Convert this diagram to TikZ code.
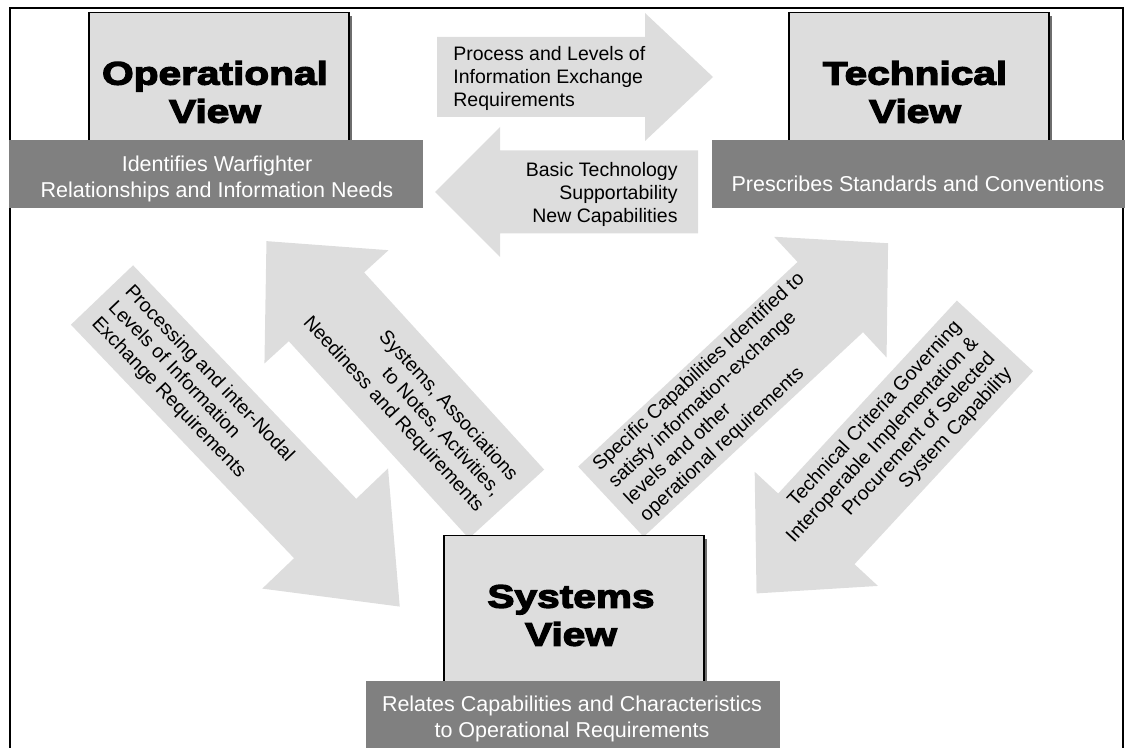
\documentclass[tikz,border=0pt]{standalone}
\usepackage{fontspec}
\setmainfont{Liberation Sans}
\newfontfamily\titlefont[BoldFeatures={FakeStretch=1.25,FakeBold=4}]{Liberation Sans}
\definecolor{lightfill}{HTML}{DDDDDD}
\definecolor{bandgray}{HTML}{808080}
\definecolor{shadowgray}{HTML}{6E6E6E}
\newcommand\blockarr[7]{% x y angle length bodywidth headwidth headlength
  \fill[arrowfill, shift={(#1,#2)}, rotate=#3]
    (0,{-#5/2}) -- ({#4-#7},{-#5/2}) -- ({#4-#7},{-#6/2}) -- (#4,0)
    -- ({#4-#7},{#6/2}) -- ({#4-#7},{#5/2}) -- (0,{#5/2}) -- cycle;}
\tikzset{
  arrowfill/.style={fill=lightfill},
  viewbox/.style={draw=black, line width=0.75pt, fill=lightfill, minimum width=130pt, minimum height=75pt, anchor=north west, inner sep=0pt},
  shadowbox/.style={fill=shadowgray, minimum width=130pt, minimum height=75pt, anchor=north west, inner sep=0pt},
  band/.style={fill=bandgray, minimum width=207pt, minimum height=34pt, anchor=north west, inner sep=0pt},
  bandtext/.style={text=white, font=\fontsize{10.75}{13}\selectfont, align=center, inner sep=0pt},
  titletext/.style={font=\titlefont\bfseries\fontsize{16.25}{19}\selectfont, align=center, inner sep=0pt},
  arrowtext/.style={font=\fontsize{9.75}{11.5}\selectfont, inner sep=0pt},
  frameline/.style={draw=black, line width=1pt}
}
\begin{document}
\begin{tikzpicture}[x=0.5pt, y=-0.5pt]
\useasboundingbox (0,0) rectangle (1125,748);
% outer frame
\coordinate (fbl) at (10,760);
\coordinate (ftl) at (10,8);
\coordinate (ftr) at (1123,8);
\coordinate (fbr) at (1123,760);
\draw[frameline] (fbl) -- (ftl) -- (ftr) -- (fbr);
% block arrows
\blockarr{437}{77}{0}{276}{80}{128}{68}
\blockarr{698}{192}{180}{263}{83}{130}{65}
\blockarr{102}{295}{-46.3}{431}{86}{174}{108}
\blockarr{506.5}{504}{132.4}{356}{102}{168}{89}
\blockarr{610.9}{501.7}{43}{379}{96}{165}{79}
\blockarr{995}{335.9}{-132.8}{351}{104}{168}{88}
% view boxes
\node[shadowbox] (opsh) at (92,16) {};
\node[viewbox] (opbox) at (88,12) {};
\node[shadowbox] (tesh) at (792,16) {};
\node[viewbox] (tebox) at (788,12) {};
\node[shadowbox] (sysh) at (447,539) {};
\node[viewbox] (sybox) at (443,535) {};
% bands
\node[band] (opband) at (9,140) {};
\node[band] (teband) at (712,140) {};
\node[band, minimum height=40pt] (syband) at (366,681) {};
% titles
\node[titletext] (optitle) at (215,92) {Operational\\View};
\node[titletext] (tetitle) at (915,92) {Technical\\View};
\node[titletext] (sytitle) at (571,615.5) {Systems\\View};
% band texts
\node[bandtext] (optext) at (217,179) {Identifies Warfighter\\Relationships and Information Needs};
\node[bandtext, anchor=base] (tetext) at (918,192) {Prescribes Standards and Conventions};
\node[bandtext] (sytext) at (572,719) {Relates Capabilities and Characteristics\\to Operational Requirements};
% arrow texts
\node[arrowtext, anchor=west, align=left] (ttop) at (453,78) {Process and Levels of\\Information Exchange\\Requirements};
\node[arrowtext, anchor=east, align=right] (tleft) at (678,194.5) {Basic Technology\\Supportability\\New Capabilities};
\node[arrowtext, rotate=-46.3, anchor=west, align=left] (ta) at (111,304.4) {Processing and inter-Nodal\\Levels of Information\\Exchange Requirements};
\node[arrowtext, rotate=-47.5, anchor=east, align=right] (tb) at (497,494) {Systems, Associations\\to Notes, Activities,\\Neediness and Requirements};
\node[arrowtext, rotate=43, anchor=west, align=left] (tc) at (619.7,493.5) {Specific Capabilities Identified to\\satisfy information-exchange\\levels and other\\operational requirements};
\node[arrowtext, rotate=47.2, anchor=east, align=right] (td) at (984,347.6) {Technical Criteria Governing\\Interoperable Implementation \&\\Procurement of Selected\\System Capability};
\end{tikzpicture}
\end{document}
